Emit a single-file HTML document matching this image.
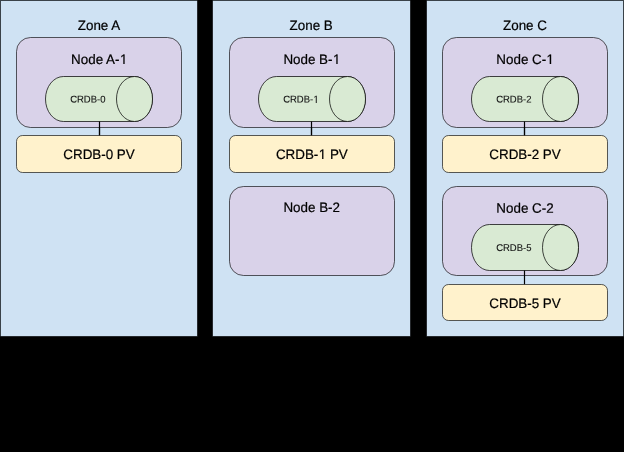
<!DOCTYPE html>
<html><head><meta charset="utf-8"><style>
html,body{margin:0;padding:0;background:#000;width:624px;height:452px;overflow:hidden}
svg{display:block;will-change:transform}
text{font-family:"Liberation Sans",sans-serif}
</style></head><body>
<svg width="624" height="452" viewBox="0 0 624 452">
<rect x="0" y="0" width="624" height="452" fill="#000"/>
<rect x="0.5" y="0.5" width="197.00" height="336.00" rx="0" ry="0" fill="#cfe2f3" stroke="#000000" stroke-opacity="0.63" stroke-width="1"/>
<line x1="1.0" y1="0.5" x2="197.0" y2="0.5" stroke="#3a4248" stroke-width="1"/>
<text transform="translate(99.0,30) scale(1,1.02) rotate(0.05)" x="0" y="0" font-size="13.4" fill="#000000" stroke="#000000" stroke-width="0.2" text-anchor="middle">Zone A</text>
<rect x="212.5" y="0.5" width="198.00" height="336.00" rx="0" ry="0" fill="#cfe2f3" stroke="#000000" stroke-opacity="0.63" stroke-width="1"/>
<line x1="213.0" y1="0.5" x2="410.0" y2="0.5" stroke="#3a4248" stroke-width="1"/>
<text transform="translate(311.15,30) scale(1,1.02) rotate(0.05)" x="0" y="0" font-size="13.4" fill="#000000" stroke="#000000" stroke-width="0.2" text-anchor="middle">Zone B</text>
<rect x="426.5" y="0.5" width="197.00" height="336.00" rx="0" ry="0" fill="#cfe2f3" stroke="#000000" stroke-opacity="0.63" stroke-width="1"/>
<line x1="427.0" y1="0.5" x2="623.0" y2="0.5" stroke="#3a4248" stroke-width="1"/>
<text transform="translate(525.0,30) scale(1,1.02) rotate(0.05)" x="0" y="0" font-size="13.4" fill="#000000" stroke="#000000" stroke-width="0.2" text-anchor="middle">Zone C</text>
<line x1="0.5" y1="0" x2="0.5" y2="336" stroke="#3a4248" stroke-width="1"/>
<line x1="623.5" y1="0" x2="623.5" y2="336" stroke="#3a4248" stroke-width="1"/>
<line x1="99.5" y1="121.5" x2="99.5" y2="135.5" stroke="#000000" stroke-width="1.2"/>
<rect x="16.5" y="37.5" width="165.00" height="90.00" rx="14" ry="14" fill="#d9d2e9" stroke="#000000" stroke-opacity="0.63" stroke-width="1"/>
<text transform="translate(99.222,64) scale(1,1.02) rotate(0.05)" x="0" y="0" font-size="13.4" fill="#000000" stroke="#000000" stroke-width="0.2" text-anchor="middle">Node A-<tspan dx="0.445">1</tspan></text>
<path d="M63.50,76.50 L134.50,76.50 A18.0,22.50 0 0 1 134.50,121.50 L63.50,121.50 A18.0,22.50 0 0 1 63.50,76.50 Z" fill="#d9ead3" stroke="#000000" stroke-opacity="0.72" stroke-width="1"/>
<ellipse cx="134.50" cy="99.00" rx="18.0" ry="22.50" fill="#d9ead3" stroke="#000000" stroke-opacity="0.72" stroke-width="1"/>
<text transform="translate(87.80,102.55) scale(1,1.03) rotate(0.05)" x="0" y="0" font-size="9.5" fill="#111111" stroke="#111111" stroke-width="0.1" text-anchor="middle">CRDB-0</text>
<line x1="99.5" y1="121.5" x2="99.5" y2="135.5" stroke="#000000" stroke-width="1.2"/>
<rect x="16.5" y="135.5" width="165.00" height="37.00" rx="6" ry="6" fill="#fff2cc" stroke="#000000" stroke-opacity="0.63" stroke-width="1"/>
<text transform="translate(99.0,158.95) scale(1,1.02) rotate(0.05)" x="0" y="0" font-size="13.4" fill="#000000" stroke="#000000" stroke-width="0.2" text-anchor="middle">CRDB-0 PV</text>
<line x1="311.5" y1="121.5" x2="311.5" y2="135.5" stroke="#000000" stroke-width="1.2"/>
<rect x="229.5" y="37.5" width="165.00" height="90.00" rx="14" ry="14" fill="#d9d2e9" stroke="#000000" stroke-opacity="0.63" stroke-width="1"/>
<text transform="translate(311.872,64) scale(1,1.02) rotate(0.05)" x="0" y="0" font-size="13.4" fill="#000000" stroke="#000000" stroke-width="0.2" text-anchor="middle">Node B-<tspan dx="0.445">1</tspan></text>
<path d="M276.50,76.50 L347.50,76.50 A18.0,22.50 0 0 1 347.50,121.50 L276.50,121.50 A18.0,22.50 0 0 1 276.50,76.50 Z" fill="#d9ead3" stroke="#000000" stroke-opacity="0.72" stroke-width="1"/>
<ellipse cx="347.50" cy="99.00" rx="18.0" ry="22.50" fill="#d9ead3" stroke="#000000" stroke-opacity="0.72" stroke-width="1"/>
<text transform="translate(300.958,102.55) scale(1,1.03) rotate(0.05)" x="0" y="0" font-size="9.5" fill="#111111" stroke="#111111" stroke-width="0.1" text-anchor="middle">CRDB-<tspan dx="0.315">1</tspan></text>
<line x1="311.5" y1="121.5" x2="311.5" y2="135.5" stroke="#000000" stroke-width="1.2"/>
<rect x="229.5" y="135.5" width="165.00" height="37.00" rx="6" ry="6" fill="#fff2cc" stroke="#000000" stroke-opacity="0.63" stroke-width="1"/>
<text transform="translate(311.872,158.95) scale(1,1.02) rotate(0.05)" x="0" y="0" font-size="13.4" fill="#000000" stroke="#000000" stroke-width="0.2" text-anchor="middle">CRDB-<tspan dx="0.445">1</tspan> PV</text>
<line x1="524.5" y1="121.5" x2="524.5" y2="135.5" stroke="#000000" stroke-width="1.2"/>
<rect x="442.5" y="37.5" width="165.00" height="90.00" rx="14" ry="14" fill="#d9d2e9" stroke="#000000" stroke-opacity="0.63" stroke-width="1"/>
<text transform="translate(525.222,64) scale(1,1.02) rotate(0.05)" x="0" y="0" font-size="13.4" fill="#000000" stroke="#000000" stroke-width="0.2" text-anchor="middle">Node C-<tspan dx="0.445">1</tspan></text>
<path d="M489.50,76.50 L560.50,76.50 A18.0,22.50 0 0 1 560.50,121.50 L489.50,121.50 A18.0,22.50 0 0 1 489.50,76.50 Z" fill="#d9ead3" stroke="#000000" stroke-opacity="0.72" stroke-width="1"/>
<ellipse cx="560.50" cy="99.00" rx="18.0" ry="22.50" fill="#d9ead3" stroke="#000000" stroke-opacity="0.72" stroke-width="1"/>
<text transform="translate(513.80,102.55) scale(1,1.03) rotate(0.05)" x="0" y="0" font-size="9.5" fill="#111111" stroke="#111111" stroke-width="0.1" text-anchor="middle">CRDB-2</text>
<line x1="524.5" y1="121.5" x2="524.5" y2="135.5" stroke="#000000" stroke-width="1.2"/>
<rect x="442.5" y="135.5" width="165.00" height="37.00" rx="6" ry="6" fill="#fff2cc" stroke="#000000" stroke-opacity="0.63" stroke-width="1"/>
<text transform="translate(525.0,158.95) scale(1,1.02) rotate(0.05)" x="0" y="0" font-size="13.4" fill="#000000" stroke="#000000" stroke-width="0.2" text-anchor="middle">CRDB-2 PV</text>
<rect x="229.5" y="186.5" width="165.00" height="89.00" rx="14" ry="14" fill="#d9d2e9" stroke="#000000" stroke-opacity="0.63" stroke-width="1"/>
<text transform="translate(311.7,212) scale(1,1.02) rotate(0.05)" x="0" y="0" font-size="13.4" fill="#000000" stroke="#000000" stroke-width="0.2" text-anchor="middle">Node B-2</text>
<rect x="442.5" y="186.5" width="165.00" height="89.00" rx="14" ry="14" fill="#d9d2e9" stroke="#000000" stroke-opacity="0.63" stroke-width="1"/>
<text transform="translate(525.0,212.7) scale(1,1.02) rotate(0.05)" x="0" y="0" font-size="13.4" fill="#000000" stroke="#000000" stroke-width="0.2" text-anchor="middle">Node C-2</text>
<path d="M489.50,224.50 L560.50,224.50 A18.0,23.00 0 0 1 560.50,270.50 L489.50,270.50 A18.0,23.00 0 0 1 489.50,224.50 Z" fill="#d9ead3" stroke="#000000" stroke-opacity="0.72" stroke-width="1"/>
<ellipse cx="560.50" cy="247.50" rx="18.0" ry="23.00" fill="#d9ead3" stroke="#000000" stroke-opacity="0.72" stroke-width="1"/>
<text transform="translate(513.80,251.05) scale(1,1.03) rotate(0.05)" x="0" y="0" font-size="9.5" fill="#111111" stroke="#111111" stroke-width="0.1" text-anchor="middle">CRDB-5</text>
<line x1="524.5" y1="270.5" x2="524.5" y2="284.5" stroke="#000000" stroke-width="1.2"/>
<rect x="442.5" y="284.5" width="165.00" height="36.00" rx="6" ry="6" fill="#fff2cc" stroke="#000000" stroke-opacity="0.63" stroke-width="1"/>
<text transform="translate(525.0,307.95) scale(1,1.02) rotate(0.05)" x="0" y="0" font-size="13.4" fill="#000000" stroke="#000000" stroke-width="0.2" text-anchor="middle">CRDB-5 PV</text>
<rect x="120" y="63" width="3" height="1" fill="#d9d2e9"/>
<rect x="123" y="63" width="1" height="1" fill="#434047"/>
<rect x="124" y="63" width="1" height="1" fill="#504e57"/>
<rect x="125" y="63" width="2" height="1" fill="#d9d2e9"/>
<rect x="333" y="63" width="3" height="1" fill="#d9d2e9"/>
<rect x="336" y="63" width="1" height="1" fill="#434047"/>
<rect x="337" y="63" width="1" height="1" fill="#504e57"/>
<rect x="338" y="63" width="2" height="1" fill="#d9d2e9"/>
<rect x="547" y="63" width="2" height="1" fill="#d9d2e9"/>
<rect x="549" y="63" width="1" height="1" fill="#9893a3"/>
<rect x="550" y="63" width="1" height="1" fill="#000000"/>
<rect x="551" y="63" width="1" height="1" fill="#b1abbe"/>
<rect x="552" y="63" width="2" height="1" fill="#d9d2e9"/>
<rect x="314" y="101" width="1" height="1" fill="#d9ead3"/>
<rect x="315" y="101" width="1" height="1" fill="#adbaa8"/>
<rect x="316" y="101" width="1" height="1" fill="#474c45"/>
<rect x="317" y="101" width="2" height="1" fill="#d9ead3"/>
<rect x="314" y="102" width="1" height="1" fill="#d9ead3"/>
<rect x="315" y="102" width="1" height="1" fill="#adbaa8"/>
<rect x="316" y="102" width="1" height="1" fill="#474c45"/>
<rect x="317" y="102" width="2" height="1" fill="#d9ead3"/>
<rect x="319" y="158" width="3" height="1" fill="#fff2cc"/>
<rect x="322" y="158" width="1" height="1" fill="#1c1b16"/>
<rect x="323" y="158" width="1" height="1" fill="#908974"/>
<rect x="324" y="158" width="2" height="1" fill="#fff2cc"/>
</svg>
</body></html>
